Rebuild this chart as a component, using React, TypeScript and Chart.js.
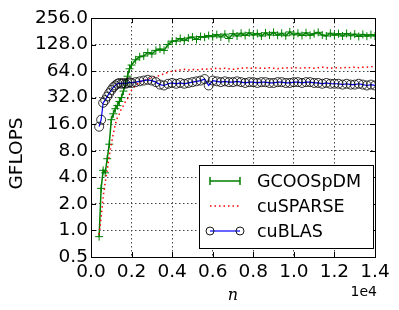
import React, { useEffect, useRef } from 'react';
import { Chart, registerables } from 'chart.js';

Chart.register(...registerables);

// matrix size n
const nValues = [
  400, 500, 600, 700, 800, 900, 1000, 1100, 1200, 1300, 1400, 1500, 1600, 1700, 1800, 1900, 2000,
  2200, 2400, 2600, 2800, 3000, 3200, 3400, 3600, 3800, 4000,
  4200, 4400, 4600, 4800, 5000, 5200, 5400, 5600, 5800, 6000,
  6200, 6400, 6600, 6800, 7000, 7200, 7400, 7600, 7800, 8000,
  8200, 8400, 8600, 8800, 9000, 9200, 9400, 9600, 9800, 10000,
  10200, 10400, 10600, 10800, 11000, 11200, 11400, 11600, 11800, 12000,
  12200, 12400, 12600, 12800, 13000, 13200, 13400, 13600, 13800, 14000,
];

const gcooValues = [
  0.85, 3.0, 4.8, 4.5, 6.5, 9.5, 18, 21, 24, 26, 29, 32, 38, 46, 56, 68, 75,
  86, 93, 95, 104, 100, 110, 114, 110, 128, 140,
  140, 150, 142, 152, 156, 146, 158, 155, 162, 157,
  166, 156, 168, 150, 170, 160, 172, 162, 174, 164,
  171, 160, 174, 164, 176, 163, 172, 161, 178, 165,
  172, 162, 174, 163, 170, 176, 164, 160, 172, 163,
  170, 160, 171, 161, 168, 158, 167, 159, 166, 160,
];

const cusparseValues = [
  0.9, 1.4, 2.4, 3.5, 4.8, 7.0, 9.5, 12.5, 16, 19, 21, 24, 26, 29, 31, 35, 39,
  44, 48, 50, 52, 54, 56, 57, 60, 62, 64,
  65, 66, 67, 66, 67, 66, 67, 68, 67, 68,
  69, 68, 69, 68, 67, 68, 69, 70, 69, 69,
  70, 69, 69, 70, 69, 68, 69, 70, 69, 70,
  70, 69, 70, 70, 69, 70, 71, 70, 69, 70,
  70, 69, 71, 70, 71, 70, 71, 71, 72, 71,
];

const cublasValues = [
  15, 18, 28, 30, 33, 36, 39, 42, 44, 46, 47, 46, 47, 46, 47, 48, 47,
  48, 49, 50, 51, 50, 48, 45, 44, 46, 47,
  46, 47, 46, 47, 48, 49, 50, 52, 44, 50,
  49, 48, 49, 48, 48, 49, 48, 47, 48, 48,
  47, 48, 48, 47, 47, 48, 48, 47, 47, 48,
  48, 47, 48, 48, 47, 47, 46, 47, 46, 46,
  46, 45, 46, 45, 45, 46, 45, 44, 45, 44,
];

const seriesNames = ['GCOOSpDM', 'cuSPARSE', 'cuBLAS'];
const yTickValues = [0.5, 1, 2, 4, 8, 16, 32, 64, 128, 256];
const xTickValues = [0, 2000, 4000, 6000, 8000, 10000, 12000, 14000];

const FONT = '"DejaVu Sans", sans-serif';
const GREEN = '#008000';
const RED = '#ff0000';
const BLUE = '#0000ff';

const decorPlugin = {
  id: 'decor',
  afterDraw(chart: any) {
    const { ctx, chartArea: a, scales } = chart;
    const xs = scales.x;
    const ys = scales.y;
    ctx.save();
    ctx.setLineDash([]);
    ctx.strokeStyle = '#000';
    ctx.lineWidth = 1;

    // inward ticks on all four sides
    ctx.beginPath();
    for (const v of xTickValues) {
      const px = Math.round(xs.getPixelForValue(v)) + 0.5;
      ctx.moveTo(px, a.bottom);
      ctx.lineTo(px, a.bottom - 5);
      ctx.moveTo(px, a.top);
      ctx.lineTo(px, a.top + 5);
    }
    for (const v of yTickValues) {
      const py = Math.round(ys.getPixelForValue(v)) + 0.5;
      ctx.moveTo(a.left, py);
      ctx.lineTo(a.left + 5, py);
      ctx.moveTo(a.right, py);
      ctx.lineTo(a.right - 5, py);
    }
    ctx.stroke();

    // frame
    ctx.strokeRect(Math.round(a.left) + 0.5, Math.round(a.top) + 0.5,
      Math.round(a.right - a.left), Math.round(a.bottom - a.top));

    // axis labels
    ctx.fillStyle = '#000';
    ctx.save();
    ctx.translate(17, (a.top + a.bottom) / 2 + 16);
    ctx.rotate(-Math.PI / 2);
    ctx.font = `18.5px ${FONT}`;
    ctx.textAlign = 'center';
    ctx.textBaseline = 'middle';
    ctx.fillText('GFLOPS', 0, 0);
    ctx.restore();

    ctx.font = 'italic 16px "DejaVu Serif", serif';
    ctx.textAlign = 'center';
    ctx.textBaseline = 'middle';
    ctx.fillText('n', (a.left + a.right) / 2, 296);

    ctx.font = `14px ${FONT}`;
    ctx.textAlign = 'right';
    ctx.fillText('1e4', a.right + 2, 292);

    // legend
    const lx = a.right - 176;
    const ly = a.bottom - 92;
    const lw = 174;
    const lh = 83;
    ctx.fillStyle = '#fff';
    ctx.fillRect(lx, ly, lw, lh);
    ctx.strokeStyle = '#000';
    ctx.lineWidth = 1;
    ctx.strokeRect(lx + 0.5, ly + 0.5, lw, lh);

    const rows = [ly + 16, ly + 41, ly + 66];
    const sx0 = lx + 11;
    const sx1 = lx + 41;
    // GCOOSpDM
    ctx.strokeStyle = GREEN;
    ctx.lineWidth = 1.5;
    ctx.beginPath();
    ctx.moveTo(sx0, rows[0]);
    ctx.lineTo(sx1, rows[0]);
    for (const sx of [sx0, sx1]) {
      ctx.moveTo(sx, rows[0] - 4);
      ctx.lineTo(sx, rows[0] + 4);
    }
    ctx.stroke();
    // cuSPARSE
    ctx.strokeStyle = RED;
    ctx.setLineDash([1.5, 3]);
    ctx.beginPath();
    ctx.moveTo(sx0, rows[1]);
    ctx.lineTo(sx1, rows[1]);
    ctx.stroke();
    ctx.setLineDash([]);
    // cuBLAS
    ctx.strokeStyle = BLUE;
    ctx.lineWidth = 1.2;
    ctx.beginPath();
    ctx.moveTo(sx0, rows[2]);
    ctx.lineTo(sx1, rows[2]);
    ctx.stroke();
    ctx.strokeStyle = '#000';
    ctx.lineWidth = 0.9;
    for (const sx of [sx0, sx1]) {
      ctx.beginPath();
      ctx.arc(sx, rows[2], 4, 0, Math.PI * 2);
      ctx.stroke();
    }

    ctx.fillStyle = '#000';
    ctx.font = `17.5px ${FONT}`;
    ctx.textAlign = 'left';
    ctx.textBaseline = 'middle';
    seriesNames.forEach((name, i) => ctx.fillText(name, lx + 58, rows[i] + 1));
    ctx.restore();
  },
};

export default function App() {
  const canvasRef = useRef<HTMLCanvasElement | null>(null);

  useEffect(() => {
    const canvas = canvasRef.current;
    if (!canvas) return;
    const toPoints = (vals: number[]) => nValues.map((n, i) => ({ x: n, y: vals[i] }));
    const chart = new Chart(canvas, {
      type: 'line',
      data: {
        datasets: [
          {
            label: seriesNames[0],
            data: toPoints(gcooValues),
            borderColor: GREEN,
            backgroundColor: GREEN,
            borderWidth: 1.5,
            pointStyle: 'cross',
            pointRadius: 4,
            pointBorderColor: GREEN,
            pointBorderWidth: 1,
            tension: 0,
            order: 2,
          },
          {
            label: seriesNames[1],
            data: toPoints(cusparseValues),
            borderColor: RED,
            borderWidth: 1.5,
            borderDash: [1.5, 3],
            pointRadius: 0,
            tension: 0,
            order: 1,
          },
          {
            label: seriesNames[2],
            data: toPoints(cublasValues),
            borderColor: BLUE,
            borderWidth: 1.2,
            pointStyle: 'circle',
            pointRadius: 4.5,
            pointBorderColor: '#000',
            pointBackgroundColor: 'rgba(0,0,0,0)',
            pointBorderWidth: 0.8,
            tension: 0,
            order: 0,
          },
        ],
      },
      options: {
        responsive: false,
        animation: false,
        events: [],
        layout: { padding: { left: 0, top: 18, right: 24, bottom: 0 } },
        plugins: { legend: { display: false }, tooltip: { enabled: false } },
        scales: {
          x: {
            type: 'linear',
            min: 0,
            max: 14000,
            afterFit: (s: any) => { s.height = 53; },
            afterBuildTicks: (s: any) => { s.ticks = xTickValues.map((v) => ({ value: v })); },
            ticks: {
              callback: (v: any) => (Number(v) / 1e4).toFixed(1),
              font: { family: FONT, size: 18.5 },
              color: '#000',
              padding: 4,
              maxRotation: 0,
              autoSkip: false,
            },
            grid: { color: '#444', lineWidth: 1, drawTicks: false },
            border: { display: false, dash: [1.5, 2.5] },
          },
          y: {
            type: 'logarithmic',
            min: 0.5,
            max: 256,
            afterFit: (s: any) => { s.width = 91; },
            afterBuildTicks: (s: any) => { s.ticks = yTickValues.map((v) => ({ value: v })); },
            ticks: {
              callback: (v: any) => Number(v).toFixed(1),
              font: { family: FONT, size: 18.5 },
              color: '#000',
              padding: 3,
              autoSkip: false,
            },
            grid: { color: '#444', lineWidth: 1, drawTicks: false },
            border: { display: false, dash: [1.5, 2.5] },
          },
        },
      },
      plugins: [decorPlugin],
    } as any);
    return () => chart.destroy();
  }, []);

  return (
    <div style={{ position: 'fixed', left: 0, top: 0, width: 399, height: 310, background: '#fff' }}>
      <canvas ref={canvasRef} width={399} height={310} style={{ display: 'block' }} />
    </div>
  );
}
